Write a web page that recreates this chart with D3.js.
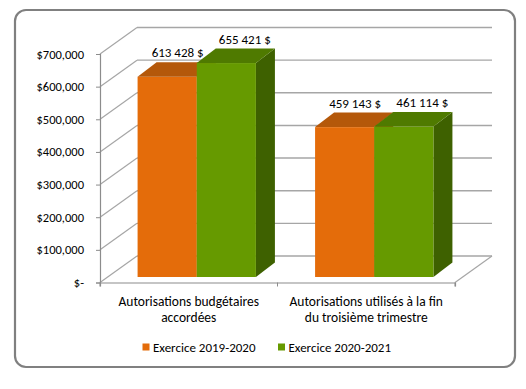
<!DOCTYPE html>
<html><head><meta charset="utf-8">
<script src="https://cdn.jsdelivr.net/npm/d3@7"></script>
<style>
html,body{margin:0;padding:0;background:#fff;}
svg text{font-family:Carlito,Lato,"Open Sans",sans-serif;fill:#000;}
</style></head>
<body><svg id="c" width="526" height="389"></svg>
<script>
const categories = ["Autorisations budgétaires accordées", "Autorisations utilisés à la fin du troisième trimestre"];
const categoryLines = [["Autorisations budgétaires", "accordées"], ["Autorisations utilisés à la fin", "du troisième trimestre"]];
const series = ["Exercice 2019-2020", "Exercice 2020-2021"];
const values2019 = [613428, 459143];
const values2020 = [655421, 461114];
const valueLabels2019 = ["613 428 $", "459 143 $"];
const valueLabels2020 = ["655 421 $", "461 114 $"];
const yTicks = [0, 100000, 200000, 300000, 400000, 500000, 600000, 700000];
const yTickLabels = ["$-", "$100,000", "$200,000", "$300,000", "$400,000", "$500,000", "$600,000", "$700,000"];

const colors = {
  "Exercice 2019-2020": {front: "#E46C0A", top: "#B4580A", side: "#A24F08"},
  "Exercice 2020-2021": {front: "#669A00", top: "#4F7A00", side: "#3E6100"}
};

const svg = d3.select("#c");
// outer frame
svg.append("rect").attr("x", 15).attr("y", 10).attr("width", 500).attr("height", 357)
  .attr("rx", 11).attr("fill", "#fff").attr("stroke", "#808080").attr("stroke-width", 2.2);

const X0 = 100, X1 = 455, Y0 = 282.5, YT = 54;
const DX = 37, DY = -26.5;          // wall depth
const BX = 8, BY = -5.5;            // bar front-face offset
const BDX = 19, BDY = -14.5;        // bar depth

const y = d3.scaleLinear().domain([0, 700000]).range([Y0, YT]);
const x = d3.scaleBand().domain(categories).range([X0, X1]).padding(0);
const xs = d3.scaleBand().domain(series).range([0, x.bandwidth()]).paddingInner(0).paddingOuter(0.5);

const grid = "#A6A6A6";
const g = svg.append("g");
// back wall gridlines + side wall lines
yTicks.forEach(t => {
  const yy = y(t);
  g.append("line").attr("x1", X0 + DX).attr("x2", X1 + DX).attr("y1", yy + DY).attr("y2", yy + DY)
    .attr("stroke", grid).attr("stroke-width", 1.4);
  g.append("line").attr("x1", X0).attr("x2", X0 + DX).attr("y1", yy).attr("y2", yy + DY)
    .attr("stroke", grid).attr("stroke-width", 1.2);
});
// floor right edge
g.append("line").attr("x1", X1).attr("y1", Y0).attr("x2", X1 + DX).attr("y2", Y0 + DY)
  .attr("stroke", grid).attr("stroke-width", 1.2);

// y axis
const yAxis = d3.axisLeft(y).tickValues(yTicks).tickSize(4).tickPadding(12)
  .tickFormat((d, i) => yTickLabels[i]);
const ya = svg.append("g").attr("transform", `translate(${X0},0)`).call(yAxis);
ya.select(".domain").attr("stroke", "#8C8C8C").attr("stroke-width", 1.2);
ya.selectAll(".tick line").attr("stroke", "#8C8C8C");
ya.selectAll(".tick text").attr("font-size", 12.5).attr("font-family", null).attr("fill", "#000");

// x axis (front floor edge)
const xAxis = d3.axisBottom(x).tickSize(4).tickFormat("");
const xa = svg.append("g").attr("transform", `translate(0,${Y0})`).call(xAxis);
xa.select(".domain").attr("stroke", "#8C8C8C").attr("stroke-width", 1.2);
xa.selectAll(".tick").remove();
[X0, x(categories[1]), X1].forEach(px => {
  xa.append("line").attr("x1", px).attr("x2", px).attr("y1", 0).attr("y2", 4).attr("stroke", "#8C8C8C");
});

// category labels
categories.forEach((c, i) => {
  const cx = x(c) + x.bandwidth() / 2;
  const t = svg.append("text").attr("text-anchor", "middle").attr("font-size", 13.5);
  categoryLines[i].forEach((ln, j) => {
    t.append("tspan").attr("x", cx).attr("y", 306 + j * 15.5).text(ln);
  });
});

// bars
const seriesData = {"Exercice 2019-2020": {vals: values2019, labs: valueLabels2019},
                    "Exercice 2020-2021": {vals: values2020, labs: valueLabels2020}};
const bars = svg.append("g");
categories.forEach((c, i) => {
  series.forEach(s => {
    const v = seriesData[s].vals[i];
    const xl = x(c) + xs(s) + BX, xr = xl + xs.bandwidth();
    const yt = y(v) + BY, yb = y(0) + BY;
    const col = colors[s];
    bars.append("polygon").attr("points", [[xr, yt], [xr + BDX, yt + BDY], [xr + BDX, yb + BDY], [xr, yb]].join(" "))
      .attr("fill", col.side);
    bars.append("rect").attr("x", xl).attr("y", yt).attr("width", xr - xl).attr("height", yb - yt).attr("fill", col.front);
    bars.append("polygon").attr("points", [[xl, yt], [xl + BDX, yt + BDY], [xr + BDX, yt + BDY], [xr, yt]].join(" "))
      .attr("fill", col.top);
  });
});
// value labels
categories.forEach((c, i) => {
  series.forEach((s, si) => {
    const v = seriesData[s].vals[i];
    const xl = x(c) + xs(s) + BX;
    const cx = xl + xs.bandwidth() / 2 + BDX / 2 + (si ? 9 : 1);
    const yt = y(v) + BY + BDY - 5;
    svg.append("text").attr("x", cx).attr("y", yt).attr("text-anchor", "middle")
      .attr("font-size", 13).text(seriesData[s].labs[i]);
  });
});

// legend
const legX = [142.5, 278];
series.forEach((s, i) => {
  svg.append("rect").attr("x", legX[i]).attr("y", 343.5).attr("width", 7).attr("height", 7)
    .attr("fill", colors[s].front);
  svg.append("text").attr("x", legX[i] + 10.5).attr("y", 351.5).attr("font-size", 13).text(s);
});
</script></body></html>
